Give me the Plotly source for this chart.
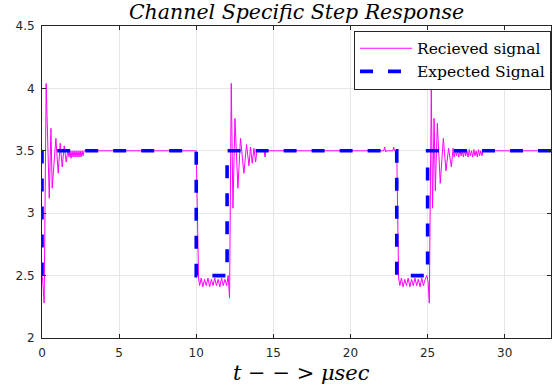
import plotly.graph_objects as go

# ---- Data ----
# Expected (ideal) signal
expected_t = [0, 0, 10, 10, 12, 12, 23, 23, 25, 25, 33]
expected_v = [2.5, 3.5, 3.5, 2.5, 2.5, 3.5, 3.5, 2.5, 2.5, 3.5, 3.5]

# Received signal
received_t = [
    0.00, 0.05, 0.14, 0.27, 0.47, 0.58, 0.66, 0.90, 1.05, 1.18, 1.31, 1.44, 1.57, 1.68,
    1.75, 1.82, 1.88, 1.95, 2.01, 2.08, 2.14, 2.21, 2.27, 2.34, 2.40, 2.47, 2.53, 2.60,
    2.66, 2.73, 2.80,
    10.00, 10.15, 10.22, 10.32, 10.43, 10.54, 10.65, 10.76, 10.87, 10.98, 11.09, 11.20,
    11.31, 11.42, 11.53, 11.64, 11.75, 11.86, 11.97, 12.07,
    12.16, 12.27, 12.38, 12.51, 12.70, 12.87, 13.09, 13.26, 13.42, 13.52, 13.63, 13.74,
    13.85, 13.93, 14.00, 14.40, 14.46, 14.52,
    22.15, 22.22, 22.28, 22.33, 22.75, 22.80, 22.86, 23.00,
    23.12, 23.20, 23.30, 23.41, 23.52, 23.63, 23.74, 23.85, 23.96, 24.07, 24.18, 24.29,
    24.40, 24.51, 24.62, 24.73, 24.84, 24.95, 25.03,
    25.11, 25.24, 25.32, 25.42, 25.50, 25.63, 25.82, 26.02, 26.19, 26.36, 26.54, 26.65,
    26.72, 26.80, 26.87, 26.95, 27.02, 27.10, 27.17, 27.25, 27.32, 27.40, 27.47, 27.55,
    27.62, 27.70, 27.77, 27.85, 27.92, 28.00, 28.07, 28.15, 28.22, 28.30, 28.37, 28.45,
    28.52, 28.60, 28.70,
    33.00,
]
received_v = [
    2.50, 2.45, 2.28, 4.04, 3.12, 3.68, 3.20, 3.60, 3.32, 3.56, 3.37, 3.54, 3.41, 3.51,
    3.45, 3.50, 3.44, 3.50, 3.45, 3.50, 3.45, 3.50, 3.45, 3.50, 3.45, 3.50, 3.45, 3.50,
    3.46, 3.50, 3.50,
    3.50, 2.48, 2.42, 2.48, 2.41, 2.47, 2.42, 2.48, 2.41, 2.47, 2.42, 2.48, 2.42, 2.47,
    2.41, 2.48, 2.42, 2.47, 2.42, 2.50,
    2.32, 4.04, 3.04, 3.76, 3.20, 3.60, 3.32, 3.55, 3.38, 3.53, 3.40, 3.52, 3.41, 3.50,
    3.50, 3.50, 3.45, 3.50,
    3.50, 3.53, 3.49, 3.50, 3.50, 3.53, 3.50, 3.50,
    2.48, 2.42, 2.48, 2.41, 2.47, 2.42, 2.48, 2.41, 2.47, 2.42, 2.48, 2.42, 2.47, 2.41,
    2.48, 2.42, 2.47, 2.50, 2.45,
    2.28, 4.00, 3.04, 3.76, 3.18, 3.72, 3.24, 3.60, 3.34, 3.52, 3.37, 3.52,
    3.45, 3.51, 3.46, 3.50, 3.45, 3.51, 3.46, 3.50, 3.45, 3.51, 3.46, 3.50,
    3.45, 3.51, 3.46, 3.50, 3.45, 3.51, 3.46, 3.50, 3.45, 3.51, 3.46, 3.50,
    3.46, 3.50, 3.50,
    3.50,
]

x_ticks = [0, 5, 10, 15, 20, 25, 30]
y_ticks = [2, 2.5, 3, 3.5, 4, 4.5]

title_text = "Channel Specific Step Response"
xlabel_text = "t − − > μsec"

# ---- Figure ----
fig = go.Figure()
fig.add_trace(go.Scatter(
    x=received_t, y=received_v, mode="lines", name="Recieved signal",
    line=dict(color="#ff00ff", width=1),
))
fig.add_trace(go.Scatter(
    x=expected_t, y=expected_v, mode="lines", name="Expected Signal",
    line=dict(color="#0000ff", width=3.6, dash="13px,15px"),
))

axis_common = dict(
    showline=True, linecolor="#262626", linewidth=1, mirror="ticks",
    ticks="inside", ticklen=4, tickcolor="#262626",
    showgrid=True, gridcolor="#e6e6e6", gridwidth=1, zeroline=False,
    tickfont=dict(family="DejaVu Sans", size=12, color="#262626"),
)

fig.update_layout(
    width=553, height=385,
    margin=dict(l=42, r=2, t=26, b=47),
    paper_bgcolor="white", plot_bgcolor="white",
    title=dict(
        text=title_text, x=0.5, xref="paper", y=1 - 12 / 385, yref="container",
        xanchor="center", yanchor="middle",
        font=dict(family="DejaVu Serif", size=20.5, color="black", style="italic"),
    ),
    xaxis=dict(range=[0, 33], tickvals=x_ticks, ticklabelstandoff=4, **axis_common),
    yaxis=dict(range=[2, 4.5], tickvals=y_ticks, ticklabelstandoff=4, **axis_common),
    legend=dict(
        x=1, y=0.985, xanchor="right", yanchor="top",
        bgcolor="white", bordercolor="#262626", borderwidth=1,
        font=dict(family="DejaVu Serif", size=15.5, color="black"),
        itemwidth=52, tracegroupgap=0,
    ),
    annotations=[dict(
        text=xlabel_text, x=0.509, xref="paper", y=-(373 - 338) / 312, yref="paper",
        xanchor="center", yanchor="middle", showarrow=False,
        font=dict(family="DejaVu Serif", size=21, color="black", style="italic"),
    )],
    showlegend=True,
)

fig.write_html("out.html")
